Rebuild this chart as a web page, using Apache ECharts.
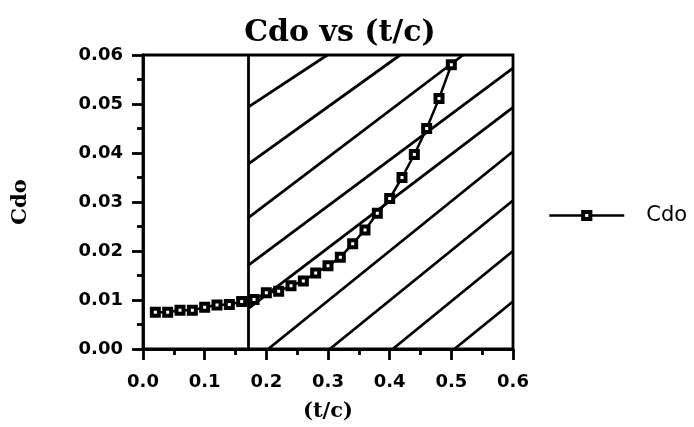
<!DOCTYPE html>
<html>
<head>
<meta charset="utf-8">
<script src="https://cdn.jsdelivr.net/npm/echarts@6/dist/echarts.min.js"></script>
<style>html,body{margin:0;padding:0;background:#fff;}#c{width:694px;height:427px;}</style>
</head>
<body>
<div id="c"></div>
<script>
// Data
var tcValues = [0.02,0.04,0.06,0.08,0.10,0.12,0.14,0.16,0.18,0.20,0.22,0.24,0.26,0.28,0.30,0.32,0.34,0.36,0.38,0.40,0.42,0.44,0.46,0.48,0.50];
var cdoValues = [0.0075,0.0075,0.0079,0.0079,0.0085,0.0090,0.0091,0.0097,0.0101,0.0115,0.0118,0.0129,0.0139,0.0155,0.0170,0.0187,0.0215,0.0243,0.0277,0.0307,0.0350,0.0397,0.0450,0.0511,0.0580];
var xTickLabels = ['0.0','0.1','0.2','0.3','0.4','0.5','0.6'];
var yTickLabels = ['0.00','0.01','0.02','0.03','0.04','0.05','0.06'];
var boundaryTc = 0.17;
// hatch segments in data units: [x1, y1, x2, y2]
var hatchSegments = [
  [0.17,0.0493, 0.299,0.06],
  [0.17,0.0377, 0.417,0.06],
  [0.17,0.0267, 0.519,0.06],
  [0.17,0.0170, 0.60,0.0573],
  [0.17,0.0082, 0.60,0.0493],
  [0.203,0.0, 0.60,0.0403],
  [0.303,0.0, 0.60,0.0303],
  [0.405,0.0, 0.60,0.0200],
  [0.505,0.0, 0.60,0.0097]
];

var chart = echarts.init(document.getElementById('c'), null, {renderer:'canvas'});
var seriesData = tcValues.map(function(x,i){return [x, cdoValues[i]];});
var sans = 'DejaVu Sans';
var serif = 'DejaVu Serif';

var series = hatchSegments.map(function(s){
  return {type:'line', silent:true, symbol:'none', data:[[s[0],s[1]],[s[2],s[3]]],
    lineStyle:{color:'#000', width:2.8}, z:1, legendHoverLink:false};
});
series.push({
  name:'Cdo', type:'line', data:seriesData,
  symbol:'rect', symbolSize:7,
  lineStyle:{color:'#000', width:2.5},
  itemStyle:{color:'#fff', borderColor:'#000', borderWidth:4},
  markLine:{silent:true, symbol:['none','none'], label:{show:false},
    lineStyle:{color:'#000', width:2.8, type:'solid'},
    data:[{xAxis:boundaryTc}]},
  z:3
});

chart.setOption({
  animation:false,
  backgroundColor:'#fff',
  title:{
    text:'Cdo vs (t/c)',
    left:335, top:13, textAlign:'center',
    textStyle:{fontFamily:serif, fontWeight:'bold', fontSize:30, color:'#000'}
  },
  legend:{
    show:true,
    left:543, top:200,
    itemWidth:75, itemHeight:9,
    data:['Cdo'],
    itemStyle:{color:'#fff', borderColor:'#000', borderWidth:4},
    lineStyle:{color:'#000', width:2.5},
    textStyle:{fontFamily:sans, fontSize:21, color:'#000', padding:[0,0,0,17]}
  },
  grid:{left:143, right:181, top:55, bottom:72, show:true, borderColor:'#000', borderWidth:2.8, backgroundColor:'transparent'},
  xAxis:{
    type:'value', min:0, max:0.6, interval:0.1,
    name:'(t/c)', nameLocation:'middle', nameGap:52,
    nameTextStyle:{fontFamily:serif, fontWeight:'bold', fontSize:21, color:'#000'},
    axisLine:{lineStyle:{color:'#000', width:2.8}},
    axisTick:{length:11, lineStyle:{color:'#000', width:2.8}},
    minorTick:{show:true, splitNumber:2, length:6, lineStyle:{color:'#000', width:2.8}},
    splitLine:{show:false},
    axisLabel:{margin:24, fontFamily:sans, fontWeight:'bold', fontSize:18, color:'#000',
      formatter:function(v){var i=Math.round(v*10);return xTickLabels[i]!==undefined?xTickLabels[i]:'';}}
  },
  yAxis:{
    type:'value', min:0, max:0.06, interval:0.01,
    name:'Cdo', nameLocation:'middle', nameGap:112, nameRotate:90,
    nameTextStyle:{fontFamily:serif, fontWeight:'bold', fontSize:21, color:'#000'},
    axisLine:{lineStyle:{color:'#000', width:2.8}},
    axisTick:{length:11, lineStyle:{color:'#000', width:2.8}},
    minorTick:{show:true, splitNumber:2, length:6, lineStyle:{color:'#000', width:2.8}},
    splitLine:{show:false},
    axisLabel:{margin:20, fontFamily:sans, fontWeight:'bold', fontSize:18, color:'#000',
      formatter:function(v){var i=Math.round(v*100);return yTickLabels[i]!==undefined?yTickLabels[i]:'';}}
  },
  series:series
});
</script>
</body>
</html>
